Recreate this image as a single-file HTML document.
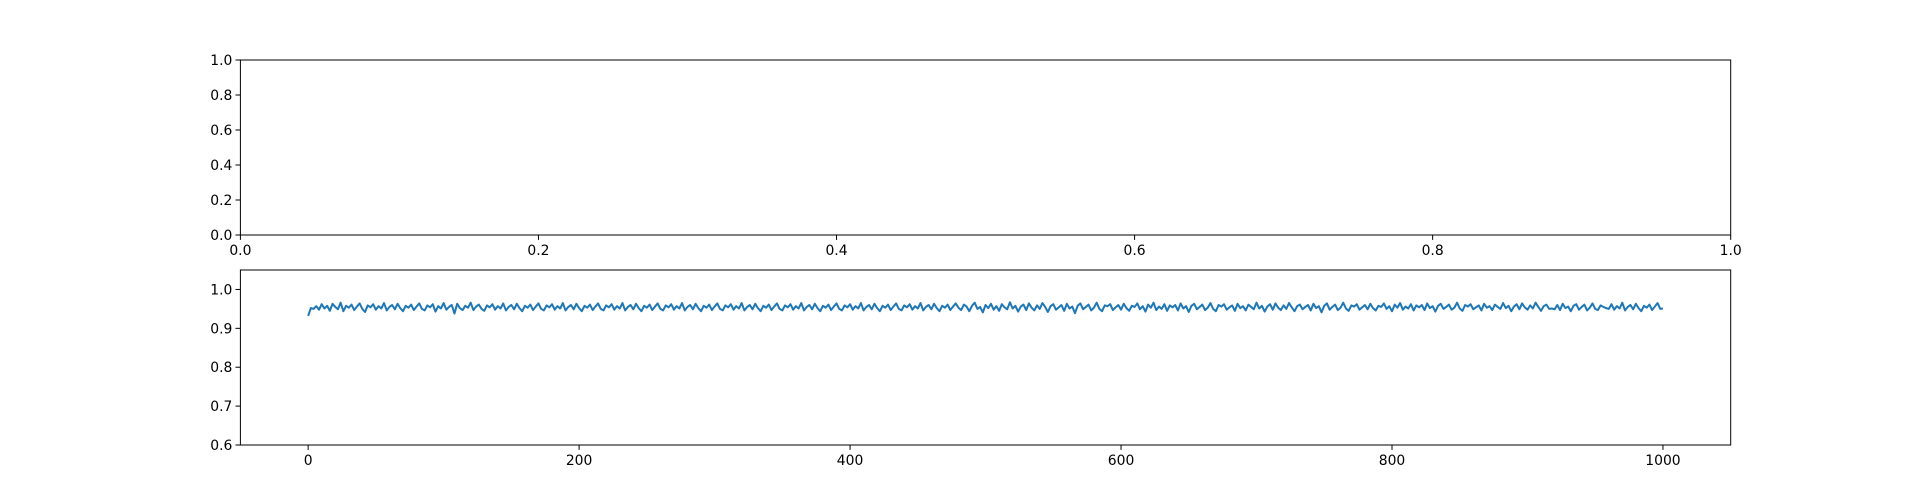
<!DOCTYPE html>
<html><head><meta charset="utf-8"><style>
body{margin:0;background:#fff;}
svg{display:block;font-family:"DejaVu Sans","Liberation Sans",sans-serif;}
</style></head><body>
<svg id="fig" width="1923" height="500" viewBox="0 0 1923 500">
<rect width="1923" height="500" fill="#fff"/>
<g id="top"></g>
<g id="bot"></g>
</svg>
<script>
const topTicks = [0.0, 0.2, 0.4, 0.6, 0.8, 1.0];
const topTickLabels = ["0.0","0.2","0.4","0.6","0.8","1.0"];
const botXTicks = [0, 200, 400, 600, 800, 1000];
const botYTicks = [0.6, 0.7, 0.8, 0.9, 1.0];
const botYTickLabels = ["0.6","0.7","0.8","0.9","1.0"];
const stepX = 2;
const seriesValues = [
0.932,0.952,0.950,0.957,0.948,0.962,0.951,0.958,0.945,0.963,0.955,0.949,0.966,0.944,0.958,0.953,0.961,0.947,0.956,0.964,
0.950,0.942,0.959,0.954,0.962,0.948,0.957,0.951,0.965,0.946,0.955,0.960,0.949,0.963,0.952,0.944,0.958,0.953,0.961,0.947,
0.956,0.964,0.950,0.946,0.959,0.954,0.962,0.943,0.957,0.951,0.965,0.948,0.955,0.960,0.938,0.963,0.952,0.947,0.958,0.953,
0.966,0.947,0.956,0.961,0.950,0.945,0.959,0.954,0.962,0.948,0.957,0.951,0.964,0.946,0.955,0.960,0.949,0.963,0.952,0.944,
0.958,0.953,0.961,0.947,0.956,0.964,0.950,0.946,0.959,0.954,0.962,0.948,0.957,0.951,0.965,0.946,0.955,0.960,0.949,0.963,
0.952,0.944,0.958,0.953,0.961,0.947,0.956,0.964,0.950,0.946,0.959,0.954,0.962,0.948,0.957,0.951,0.965,0.946,0.955,0.960,
0.949,0.963,0.952,0.944,0.958,0.953,0.961,0.947,0.956,0.964,0.950,0.946,0.959,0.954,0.962,0.948,0.957,0.951,0.965,0.946,
0.955,0.960,0.949,0.963,0.952,0.944,0.958,0.953,0.961,0.947,0.956,0.964,0.950,0.946,0.959,0.954,0.962,0.948,0.957,0.951,
0.965,0.946,0.955,0.960,0.949,0.963,0.952,0.944,0.958,0.953,0.961,0.947,0.956,0.964,0.950,0.946,0.959,0.954,0.962,0.948,
0.957,0.951,0.965,0.946,0.955,0.960,0.949,0.963,0.952,0.944,0.958,0.953,0.961,0.947,0.956,0.964,0.950,0.946,0.959,0.954,
0.962,0.948,0.957,0.951,0.965,0.946,0.955,0.960,0.949,0.963,0.952,0.944,0.958,0.953,0.961,0.947,0.956,0.964,0.950,0.946,
0.959,0.954,0.962,0.948,0.957,0.951,0.965,0.946,0.955,0.960,0.949,0.963,0.952,0.944,0.958,0.953,0.961,0.947,0.956,0.964,
0.953,0.947,0.961,0.956,0.944,0.958,0.966,0.950,0.955,0.941,0.960,0.952,0.963,0.948,0.957,0.945,0.962,0.954,0.949,0.967,
0.951,0.958,0.943,0.956,0.961,0.947,0.964,0.953,0.946,0.959,0.950,0.965,0.955,0.942,0.957,0.962,0.948,0.954,0.960,0.945,
0.963,0.951,0.956,0.939,0.958,0.964,0.949,0.955,0.961,0.946,0.953,0.966,0.950,0.944,0.959,0.957,0.962,0.947,0.954,0.960,
0.948,0.963,0.952,0.945,0.958,0.955,0.964,0.949,0.957,0.943,0.961,0.953,0.966,0.947,0.956,0.950,0.962,0.945,0.959,0.954,
0.960,0.946,0.964,0.951,0.957,0.942,0.958,0.963,0.949,0.955,0.961,0.947,0.953,0.965,0.950,0.944,0.960,0.956,0.962,0.948,
0.954,0.959,0.945,0.963,0.952,0.957,0.946,0.961,0.955,0.949,0.966,0.951,0.958,0.943,0.956,0.962,0.948,0.964,0.953,0.947,
0.959,0.950,0.965,0.954,0.944,0.957,0.961,0.949,0.955,0.960,0.946,0.963,0.952,0.957,0.941,0.958,0.964,0.948,0.955,0.961,
0.947,0.953,0.966,0.951,0.945,0.959,0.956,0.962,0.948,0.954,0.960,0.949,0.963,0.952,0.946,0.958,0.955,0.964,0.950,0.957,
0.944,0.961,0.953,0.965,0.948,0.956,0.951,0.962,0.946,0.959,0.954,0.960,0.947,0.964,0.952,0.957,0.943,0.958,0.963,0.950,
0.955,0.961,0.948,0.953,0.966,0.951,0.945,0.960,0.956,0.962,0.949,0.954,0.959,0.946,0.963,0.953,0.957,0.947,0.961,0.955,
0.950,0.965,0.952,0.958,0.944,0.956,0.962,0.949,0.964,0.954,0.948,0.959,0.951,0.966,0.955,0.945,0.957,0.961,0.950,0.951,
0.949,0.960,0.947,0.963,0.952,0.956,0.944,0.958,0.962,0.948,0.955,0.961,0.946,0.953,0.964,0.950,0.947,0.959,0.955,0.952,
0.950,0.962,0.948,0.957,0.951,0.966,0.946,0.955,0.960,0.949,0.963,0.952,0.944,0.958,0.953,0.961,0.947,0.956,0.965,0.950,
0.951
];
const NS="http://www.w3.org/2000/svg";
function mk(parent, tag, attrs, text){
  const e=document.createElementNS(NS,tag);
  for(const k in attrs) e.setAttribute(k,attrs[k]);
  if(text!==undefined) e.textContent=text;
  parent.appendChild(e); return e;
}
const L=240.4, R=1730.7;
const T1=60, B1=235;
const gt=document.getElementById('top');
const tx=v=>L+(R-L)*v, ty=v=>B1-(B1-T1)*v;
topTicks.forEach((v,i)=>{
  const t=mk(gt,'line',{x1:tx(v),x2:tx(v),y1:B1,y2:B1+4.9,stroke:'#000','stroke-width':1});
  
  
  const l=mk(gt,'text',{x:tx(v),y:B1+20,'text-anchor':'middle','font-size':13.9},topTickLabels[i]);
  
  
  const t2=mk(gt,'line',{x1:L-4.9,x2:L,y1:ty(v),y2:ty(v),stroke:'#000','stroke-width':1});
  
  
  const l2=mk(gt,'text',{x:L-8,y:ty(v)+5,'text-anchor':'end','font-size':13.9},topTickLabels[i]);
  
  
});
const f1=mk(gt,'rect',{x:L,y:T1,width:R-L,height:B1-T1,fill:'none',stroke:'#000','stroke-width':1});


const T2=270, B2=445, xmin=-50, xmax=1050, ymin=0.6, ymax=1.05;
const gb=document.getElementById('bot');
const bx=v=>L+(R-L)*(v-xmin)/(xmax-xmin), by=v=>B2-(B2-T2)*(v-ymin)/(ymax-ymin);
botXTicks.forEach(v=>{
  const t=mk(gb,'line',{x1:bx(v),x2:bx(v),y1:B2,y2:B2+4.9,stroke:'#000','stroke-width':1});
  
  
  const l=mk(gb,'text',{x:bx(v),y:B2+20,'text-anchor':'middle','font-size':13.9},String(v));
  
  
});
botYTicks.forEach((v,i)=>{
  const t=mk(gb,'line',{x1:L-4.9,x2:L,y1:by(v),y2:by(v),stroke:'#000','stroke-width':1});
  
  
  const l=mk(gb,'text',{x:L-8,y:by(v)+5,'text-anchor':'end','font-size':13.9},botYTickLabels[i]);
  
  
});
const pts=seriesValues.map((v,i)=>bx(i*stepX).toFixed(2)+','+by(v).toFixed(2)).join(' ');
const line=mk(gb,'polyline',{points:pts,fill:'none',stroke:'#1f77b4','stroke-width':2,'stroke-linejoin':'round'});


const f2=mk(gb,'rect',{x:L,y:T2,width:R-L,height:B2-T2,fill:'none',stroke:'#000','stroke-width':1});


</script>
</body></html>
